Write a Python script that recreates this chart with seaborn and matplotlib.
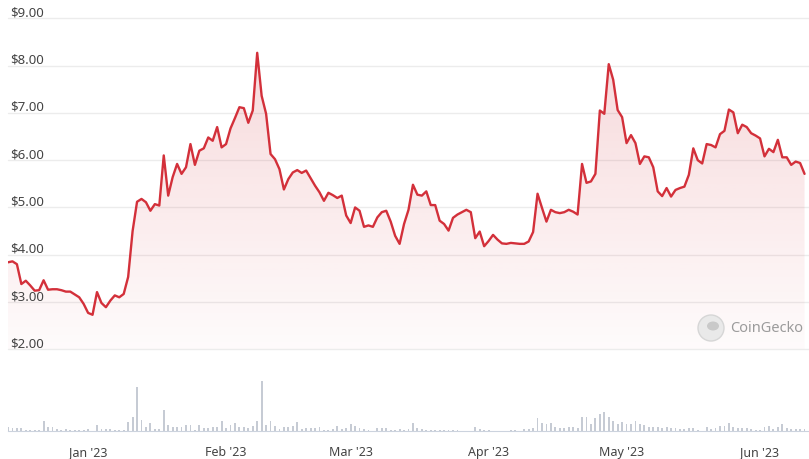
import numpy as np
import pandas as pd
import seaborn as sns
import matplotlib.pyplot as plt
import matplotlib.dates as mdates
from matplotlib.colors import to_rgb
from matplotlib.patches import Circle, Ellipse

# daily prices (USD), 14 Dec 2022 -> 11 Jun 2023
start_date = "2022-12-14"
price_dec = [3.84, 3.86, 3.80, 3.38, 3.45, 3.35, 3.24, 3.25, 3.46, 3.26,
             3.27, 3.27, 3.25, 3.22, 3.22, 3.16, 3.10, 2.96]
price_jan = [2.77, 2.73, 3.21, 2.98, 2.89, 3.03, 3.14, 3.10, 3.17, 3.53,
             4.50, 5.12, 5.18, 5.11, 4.93, 5.07, 5.04, 6.10, 5.25, 5.64,
             5.92, 5.71, 5.85, 6.34, 5.90, 6.20, 6.25, 6.48, 6.41, 6.70, 6.27]
price_feb = [6.34, 6.67, 6.89, 7.12, 7.10, 6.79, 7.05, 8.27, 7.36, 6.98,
             6.13, 6.02, 5.81, 5.38, 5.60, 5.74, 5.79, 5.73, 5.78, 5.62,
             5.46, 5.32, 5.14, 5.31, 5.26, 5.20, 5.25, 4.83]
price_mar = [4.67, 5.00, 4.93, 4.59, 4.62, 4.59, 4.79, 4.90, 4.93, 4.70,
             4.40, 4.23, 4.65, 4.95, 5.48, 5.27, 5.25, 5.34, 5.05, 5.05,
             4.72, 4.65, 4.51, 4.78, 4.85, 4.90, 4.95, 4.90, 4.35, 4.49, 4.18]
price_apr = [4.29, 4.42, 4.32, 4.24, 4.23, 4.25, 4.24, 4.23, 4.23, 4.28,
             4.48, 5.29, 4.99, 4.70, 4.95, 4.90, 4.88, 4.90, 4.95, 4.91,
             4.85, 5.92, 5.52, 5.55, 5.71, 7.05, 6.98, 8.03, 7.70, 7.06]
price_may = [6.91, 6.36, 6.53, 6.36, 5.92, 6.08, 6.06, 5.85, 5.34, 5.24,
             5.41, 5.23, 5.37, 5.41, 5.44, 5.69, 6.25, 6.00, 5.93, 6.34,
             6.32, 6.27, 6.55, 6.62, 7.07, 7.01, 6.57, 6.75, 6.70, 6.57, 6.52]
price_jun = [6.46, 6.08, 6.24, 6.17, 6.43, 6.06, 6.06, 5.90, 5.97, 5.94, 5.71]

# relative daily volume (bar heights)
vol_dec = [3.7, 2.7, 2.7, 2.7, 1.3, 1.0, 1.0, 1.0, 9.7, 3.7,
           3.7, 2.0, 1.3, 2.0, 1.0, 1.0, 1.0, 1.0]
vol_jan = [2.0, 0.5, 6.3, 2.0, 2.0, 2.0, 1.0, 1.0, 1.0, 8.7,
           13.7, 44.0, 11.3, 3.7, 7.7, 2.0, 2.0, 21.3, 6.0, 3.7,
           3.7, 3.7, 6.3, 6.0, 1.3, 6.3, 3.0, 3.0, 3.7, 3.7, 10.3]
vol_feb = [2.7, 6.3, 7.7, 3.7, 3.7, 3.0, 4.7, 9.7, 50.3, 6.3,
           9.7, 5.3, 2.0, 4.3, 4.3, 5.3, 8.7, 2.0, 3.0, 3.0,
           3.0, 3.7, 1.3, 1.3, 2.0, 4.7, 2.0, 2.7]
vol_mar = [7.0, 4.7, 2.7, 2.0, 1.0, 0.5, 2.7, 3.0, 2.7, 1.0,
           1.3, 2.0, 1.3, 2.0, 7.7, 2.7, 2.0, 1.3, 1.3, 1.3,
           1.0, 1.3, 1.3, 1.3, 1.0, 0.5, 0.2, 0.2, 3.7, 2.0, 1.3]
vol_apr = [1.3, 0.2, 0.2, 0.2, 0.2, 1.3, 1.0, 0.2, 2.0, 2.0,
           3.2, 12.7, 8.0, 7.0, 8.0, 3.7, 3.0, 3.0, 3.7, 3.7,
           3.0, 14.3, 14.3, 7.0, 13.0, 17.0, 19.3, 13.7, 9.7, 7.0]
vol_may = [8.7, 7.0, 7.0, 9.7, 7.0, 6.0, 3.7, 3.7, 3.7, 3.0,
           3.7, 3.0, 3.0, 2.0, 2.0, 2.7, 3.0, 1.0, 0.2, 4.3,
           2.0, 3.0, 4.7, 4.7, 8.0, 3.7, 3.0, 2.7, 3.0, 2.0, 1.3]
vol_jun = [1.0, 3.7, 4.7, 2.0, 3.7, 7.0, 3.0, 2.0, 2.0, 2.0, 2.0]

price_ticks = [2, 3, 4, 5, 6, 7, 8, 9]
month_ticks = ["2023-01-01", "2023-02-01", "2023-03-01",
               "2023-04-01", "2023-05-01", "2023-06-01"]

prices = price_dec + price_jan + price_feb + price_mar + price_apr + price_may + price_jun
volumes = vol_dec + vol_jan + vol_feb + vol_mar + vol_apr + vol_may + vol_jun
dates = pd.date_range(start_date, periods=len(prices), freq="D")
df = pd.DataFrame({"date": dates, "price": prices, "volume": volumes})

RED = "#d3303a"
W, H = 809, 460
sns.set_style("white")
plt.rcParams["font.family"] = ["Noto Sans", "DejaVu Sans"]

fig = plt.figure(figsize=(W / 100, H / 100), dpi=100)
ax = fig.add_axes([8 / W, 1 - 350.3 / H, 801 / W, 331 / H])
vax = fig.add_axes([8 / W, 1 - 432 / H, 801 / W, 62 / H])

# price line + gradient area
sns.lineplot(data=df, x="date", y="price", ax=ax, color=RED, linewidth=1.7, zorder=3)
poly = ax.fill_between(df["date"], df["price"], 2, color="none", linewidth=0)
n = 256
grad = np.zeros((n, 1, 4))
grad[..., :3] = to_rgb(RED)
grad[..., 3] = np.linspace(0.20, 0.02, n)[:, None]
x0, x1 = mdates.date2num(dates[0]), mdates.date2num(dates[-1])
im = ax.imshow(grad, extent=[x0, x1, 2, 9], aspect="auto", origin="upper", zorder=1)
im.set_clip_path(poly.get_paths()[0], transform=ax.transData)

xlim = (mdates.date2num(pd.Timestamp("2022-12-14")), mdates.date2num(pd.Timestamp("2023-06-12")))
ax.set_xlim(xlim)
ax.set_ylim(2, 9)
ax.set_yticks(price_ticks)
ax.yaxis.grid(True, color="#ececec", linewidth=1)
for gl in ax.get_ygridlines():
    gl.set_clip_on(False)
ax.tick_params(left=False, bottom=False, labelleft=False, labelbottom=False)
ax.set_xlabel("")
ax.set_ylabel("")
for s in ax.spines.values():
    s.set_visible(False)
for p in price_ticks:
    ax.text(2 / 801, p, f"${p:.2f}", transform=ax.get_yaxis_transform(),
            ha="left", va="bottom", fontsize=9.5, color="#444444", zorder=4)

# volume bars
vax.bar(mdates.date2num(df["date"]), df["volume"], width=0.42, color="#c6cbd4", linewidth=0)
vax.set_xlim(xlim)
vax.set_ylim(0, 62)
for s in ["top", "left", "right"]:
    vax.spines[s].set_visible(False)
vax.spines["bottom"].set_color("#ccd3de")
vax.set_yticks([])
vax.set_xticks([mdates.date2num(pd.Timestamp(m)) for m in month_ticks])
vax.xaxis.set_major_formatter(mdates.DateFormatter("%b '%y"))
vax.tick_params(axis="x", length=8, width=1, color="#ccd3de", labelsize=9,
                labelcolor="#444444", pad=2)

# watermark
fig.patches.append(Circle((7.11, 1.31), 0.13, transform=fig.dpi_scale_trans,
                          facecolor="#e9e9e9", edgecolor="#d6d6d6", linewidth=1))
fig.patches.append(Ellipse((7.13, 1.33), 0.12, 0.09, transform=fig.dpi_scale_trans,
                           facecolor="#c9c9c9", edgecolor="none"))
fig.text(730 / W, 1 - 329 / H, "CoinGecko", ha="left", va="center",
         fontsize=10.5, color="#9b9b9b")

fig.savefig("out.png", dpi=100)
